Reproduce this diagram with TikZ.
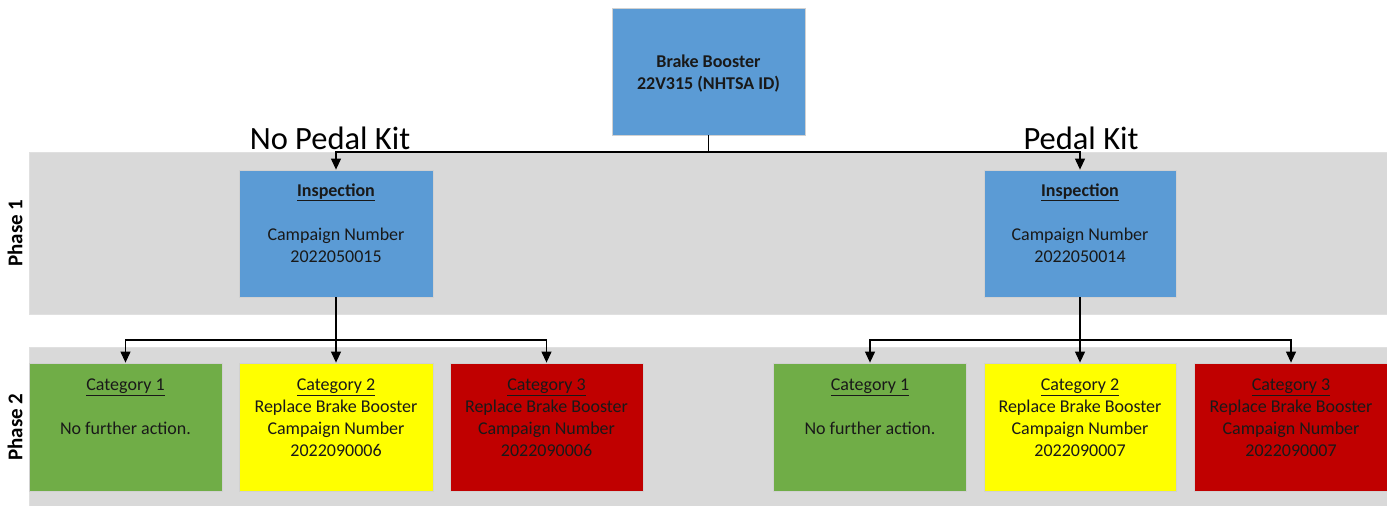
\documentclass[tikz,border=0pt]{standalone}
\usepackage{fontspec}
\setmainfont{Carlito}
\usetikzlibrary{arrows.meta}
\definecolor{boxblue}{HTML}{5B9BD5}
\definecolor{bandgray}{HTML}{D9D9D9}
\definecolor{cgreen}{HTML}{70AD47}
\definecolor{cyellow}{HTML}{FFFF00}
\definecolor{cred}{HTML}{C00000}
\begin{document}
\begin{tikzpicture}[x=1pt,y=-1pt,
  box/.style={draw=black!18, line width=0.8pt, inner sep=0pt, minimum width=193pt, minimum height=127pt},
  bluebox/.style={box, fill=boxblue},
  catbox/.style={box, minimum height=128pt},
  txt/.style={font=\fontsize{18}{22}\selectfont, align=center, inner sep=0pt, text=black!90},
  band/.style={fill=bandgray, draw=black!12, line width=0.6pt},
  conn/.style={line width=1.1pt, draw=black},
  arr/.style={conn, -{Triangle[length=11pt,width=10pt]}},
  kit/.style={font=\fontsize{32.5}{36}\selectfont, inner sep=0pt},
  phase/.style={font=\bfseries\fontsize{21}{24}\selectfont, rotate=90, inner sep=0pt}
]
\useasboundingbox (0,0) rectangle (1387,506);
\fill[white] (0,0) rectangle (1387,506);
% bands
\path[band] (29,152) rectangle (1389,314);
\path[band] (29,347) rectangle (1389,508);
\node[phase] (ph1) at (15,233) {Phase 1};
\node[phase] (ph2) at (15,427) {Phase 2};
% top box
\node[bluebox] (top) at (708.5,71.5) {};
\node[txt, font=\bfseries\fontsize{18}{22}\selectfont] (toptxt) at ([yshift=-2pt]top.center) {Brake Booster\\22V315 (NHTSA ID)};
% inspection boxes
\node[bluebox, minimum width=194pt] (inspL) at (336,233.5) {};
\node[bluebox, minimum width=192pt] (inspR) at (1080,233.5) {};
\node[txt, anchor=north] (inspLt) at ([yshift=-14pt]inspL.north) {\textbf{\underline{Inspection}}\\[22pt]Campaign Number\\2022050015};
\node[txt, anchor=north] (inspRt) at ([yshift=-14pt]inspR.north) {\textbf{\underline{Inspection}}\\[22pt]Campaign Number\\2022050014};
% category boxes
\node[catbox, fill=cgreen] (c1) at (125.5,427) {};
\node[catbox, fill=cyellow, minimum width=194pt] (c2) at (336,427) {};
\node[catbox, fill=cred] (c3) at (546.5,427) {};
\node[catbox, fill=cgreen] (c4) at (870,427) {};
\node[catbox, fill=cyellow, minimum width=192pt] (c5) at (1080,427) {};
\node[catbox, fill=cred, minimum width=194pt] (c6) at (1291,427) {};
\node[txt, anchor=north] (c1t) at ([yshift=-16pt]c1.north) {\underline{Category 1}\\[22pt]No further action.};
\node[txt, anchor=north] (c2t) at ([yshift=-16pt]c2.north) {\underline{Category 2}\\Replace Brake Booster\\Campaign Number\\2022090006};
\node[txt, anchor=north] (c3t) at ([yshift=-16pt]c3.north) {\underline{Category 3}\\Replace Brake Booster\\Campaign Number\\2022090006};
\node[txt, anchor=north] (c4t) at ([yshift=-16pt]c4.north) {\underline{Category 1}\\[22pt]No further action.};
\node[txt, anchor=north] (c5t) at ([yshift=-16pt]c5.north) {\underline{Category 2}\\Replace Brake Booster\\Campaign Number\\2022090007};
\node[txt, anchor=north] (c6t) at ([yshift=-16pt]c6.north) {\underline{Category 3}\\Replace Brake Booster\\Campaign Number\\2022090007};
% kit labels
\node[kit] (nokit) at (330,138) {No Pedal Kit};
\node[kit] (kit) at (1081,138) {Pedal Kit};
% connectors
\coordinate (j0) at (708.5,152);
\coordinate (jL) at (336,340);
\coordinate (jR) at (1080,340);
\draw[conn] (top.south) -- (j0);
\draw[arr] (j0) -| (inspL.north);
\draw[arr] (j0) -| (inspR.north);
\draw[conn] (inspL.south) -- (jL);
\draw[arr] (jL) -| (c1.north);
\draw[arr] (jL) -- (c2.north);
\draw[arr] (jL) -| (c3.north);
\draw[conn] (inspR.south) -- (jR);
\draw[arr] (jR) -| (c4.north);
\draw[arr] (jR) -- (c5.north);
\draw[arr] (jR) -| (c6.north);
\end{tikzpicture}
\end{document}
